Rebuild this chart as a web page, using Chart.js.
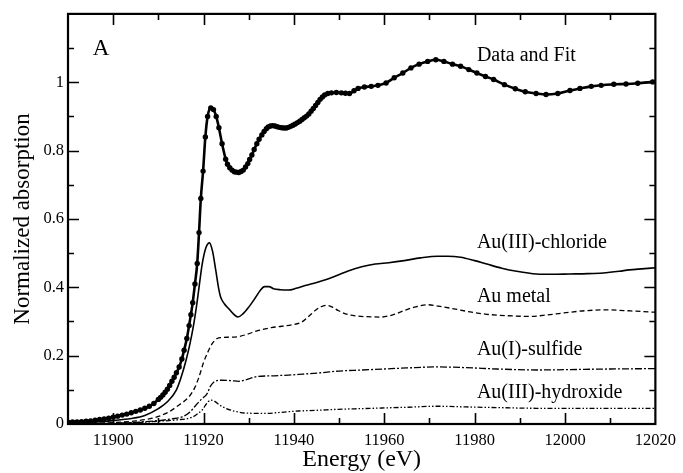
<!DOCTYPE html>
<html><head><meta charset="utf-8">
<script src="https://cdn.jsdelivr.net/npm/chart.js@4"></script>
<style>html,body{margin:0;padding:0;background:#fff}canvas{display:block}</style>
</head><body>
<canvas id="c" width="683" height="473"></canvas>
<script>
// ---- data (energy in eV, normalized absorption) ----
const seriesNames = ['Data and Fit', 'Au(III)-chloride', 'Au metal', 'Au(I)-sulfide', 'Au(III)-hydroxide'];

const fitE = [11890,11891,11892,11893,11894,11895,11896,11897,11898,11899,11900,11901,11902,11903,11904,11905,11906,11907,11908,11909,11910,11910.5,11911,11911.5,11912,11912.5,11913,11913.5,11914,11914.6,11915.2,11915.7,11916.3,11916.8,11917.2,11917.6,11918.1,11918.6,11919.0,11919.4,11919.9,11920.4,11920.9,11921.6,11922.2,11922.8,11923.4,11924.1,11924.9,11925.3,11925.8,11926.3,11926.8,11927.3,11927.8,11928.3,11928.8,11929.3,11929.8,11930.2,11930.7,11931.2,11931.8,11932.3,11932.9,11933.4,11933.9,11934.3,11934.8,11935.3,11935.8,11936.3,11936.8,11937.3,11937.8,11938.3,11938.8,11939.3,11939.8,11940.3,11940.8,11941.3,11941.8,11942.3,11942.8,11943.3,11943.8,11944.3,11944.8,11945.3,11945.8,11946.3,11946.8,11947.5,11948.3,11949.4,11950.5,11951.4,11952.3,11953.3,11954.2,11955.6,11957.1,11958.6,11960.4,11962.2,11964.1,11965.9,11967.7,11969.6,11971.4,11973.2,11975.1,11976.9,11978.7,11980.5,11982.4,11984.2,11986.6,11989.0,11991.2,11993.6,11995.8,11998.4,12001.1,12003.3,12005.8,12008.0,12010.8,12013.5,12016.1,12019.4];
const fitMu = [0.005,0.006,0.006,0.007,0.008,0.009,0.011,0.013,0.015,0.017,0.020,0.023,0.026,0.029,0.033,0.037,0.041,0.046,0.052,0.060,0.072,0.078,0.085,0.093,0.102,0.113,0.125,0.137,0.150,0.167,0.190,0.216,0.250,0.288,0.320,0.355,0.410,0.470,0.560,0.660,0.740,0.840,0.900,0.925,0.920,0.900,0.867,0.820,0.775,0.760,0.750,0.743,0.738,0.737,0.736,0.739,0.743,0.752,0.762,0.774,0.787,0.803,0.820,0.833,0.846,0.856,0.864,0.869,0.872,0.873,0.872,0.870,0.868,0.867,0.866,0.866,0.868,0.871,0.874,0.878,0.882,0.886,0.891,0.896,0.901,0.907,0.915,0.923,0.932,0.941,0.950,0.957,0.963,0.967,0.969,0.970,0.969,0.968,0.967,0.975,0.982,0.986,0.988,0.991,0.998,1.013,1.027,1.042,1.053,1.061,1.066,1.061,1.053,1.047,1.037,1.027,1.017,1.008,0.993,0.981,0.972,0.967,0.964,0.967,0.976,0.982,0.988,0.991,0.994,0.995,0.997,1.001];

const chlorideE = [11890,11895,11900,11904,11907,11910,11912,11914,11915,11916.1,11917,11917.8,11918.5,11919,11919.7,11920.5,11921.3,11922,11922.7,11923.3,11923.8,11924.6,11925.6,11926.6,11927.6,11928.7,11930,11931.5,11932.5,11933.5,11934.5,11935.5,11937,11938.8,11940.5,11942.5,11945,11947,11949.8,11952,11955,11958,11961,11964.4,11968,11971.8,11974,11976.9,11980,11982.7,11986,11989.3,11993.7,11997,12001,12005,12008.4,12012,12014.2,12017,12020];
const chlorideMu = [0.002,0.005,0.010,0.016,0.025,0.045,0.065,0.100,0.135,0.185,0.235,0.290,0.350,0.400,0.468,0.515,0.530,0.505,0.450,0.400,0.371,0.352,0.337,0.322,0.313,0.322,0.342,0.370,0.390,0.402,0.402,0.396,0.393,0.392,0.397,0.405,0.414,0.422,0.436,0.448,0.460,0.468,0.472,0.478,0.486,0.491,0.491,0.488,0.478,0.468,0.456,0.447,0.439,0.438,0.439,0.440,0.442,0.447,0.451,0.454,0.457];

const metalE = [11890,11900,11905,11908,11910,11912.4,11914.5,11916.8,11918,11919,11920,11920.8,11921.9,11923,11924.1,11925.5,11927.4,11929.5,11932.2,11935,11937.3,11939.5,11941.7,11943.3,11944.7,11946,11947.2,11948.5,11949.8,11952,11954,11956,11959.3,11962,11964.4,11967,11969.6,11972,11975.4,11979,11982.7,11987,11992.3,11996,12001,12005,12009.8,12013,12015.7,12020];
const metalMu = [0.001,0.004,0.009,0.015,0.022,0.036,0.055,0.080,0.105,0.138,0.180,0.206,0.235,0.250,0.253,0.254,0.255,0.262,0.274,0.282,0.286,0.290,0.298,0.315,0.332,0.343,0.347,0.342,0.332,0.320,0.316,0.314,0.313,0.320,0.332,0.343,0.349,0.345,0.337,0.328,0.321,0.317,0.315,0.319,0.327,0.332,0.334,0.332,0.330,0.327];

const sulfideE = [11890,11900,11905,11910,11913,11915.3,11917,11918.3,11919.5,11920.8,11921.5,11922.3,11923.8,11926,11927.8,11929.5,11931.5,11935,11938.8,11942,11946.1,11950,11955,11960,11965,11971.8,11978,11985,11993.7,12000,12010,12020];
const sulfideMu = [0.000,0.002,0.005,0.010,0.015,0.021,0.035,0.055,0.072,0.089,0.110,0.123,0.128,0.127,0.125,0.130,0.138,0.141,0.143,0.146,0.150,0.155,0.158,0.161,0.164,0.167,0.165,0.161,0.158,0.159,0.161,0.162];

const hydroxideE = [11890,11900,11905,11910,11914,11917.5,11919,11919.7,11920.7,11921.6,11922.5,11923.5,11924.9,11927,11929.3,11933.7,11937,11941,11945,11949.8,11955,11960,11965,11971.8,11978,11985,11993.7,12000,12010,12020];
const hydroxideMu = [0.000,0.002,0.004,0.008,0.012,0.020,0.033,0.041,0.060,0.070,0.066,0.056,0.046,0.037,0.032,0.031,0.034,0.038,0.040,0.043,0.045,0.047,0.049,0.052,0.050,0.048,0.046,0.046,0.046,0.046];

const xTickLabels = ['11900','11920','11940','11960','11980','12000','12020'];
const yTickLabels = ['0','0.2','0.4','0.6','0.8','1'];
const panelLetter = 'A';
const xTitle = 'Energy (eV)';
const yTitle = 'Normalized absorption';

// ---- chart ----
const FONT = "'Liberation Serif', 'Times New Roman', serif";
const pts = (xs, ys) => xs.map((x, i) => ({x, y: ys[i]}));

const frameTicks = {
  id: 'frameTicks',
  afterDatasetsDraw(chart) {
    const {ctx, chartArea: a, scales: {x, y}} = chart;
    ctx.save();
    ctx.strokeStyle = '#000';
    ctx.lineWidth = 1.6;
    ctx.beginPath();
    x.ticks.forEach(t => {
      if (t.value <= x.min || t.value >= x.max) return;
      const p = Math.round(x.getPixelForValue(t.value)) + 0.5;
      const len = t.label ? 11 : 6;
      ctx.moveTo(p, a.bottom); ctx.lineTo(p, a.bottom - len);
      ctx.moveTo(p, a.top); ctx.lineTo(p, a.top + len);
    });
    y.ticks.forEach(t => {
      if (t.value <= y.min + 1e-9 || t.value >= y.max - 1e-9) return;
      const p = Math.round(y.getPixelForValue(t.value)) + 0.5;
      const len = t.label ? 11 : 6;
      ctx.moveTo(a.left, p); ctx.lineTo(a.left + len, p);
      ctx.moveTo(a.right, p); ctx.lineTo(a.right - len, p);
    });
    ctx.stroke();
    ctx.lineWidth = 2.2;
    ctx.strokeRect(a.left, a.top, a.right - a.left, a.bottom - a.top);
    ctx.restore();
  }
};

const curveLabels = {
  id: 'curveLabels',
  afterDatasetsDraw(chart, args, opts) {
    const {ctx, scales: {x, y}} = chart;
    ctx.save();
    ctx.fillStyle = '#000';
    ctx.textAlign = 'left';
    ctx.textBaseline = 'alphabetic';
    opts.items.forEach(it => {
      ctx.font = it.size + 'px ' + FONT;
      ctx.fillText(it.text, x.getPixelForValue(it.x), y.getPixelForValue(it.y));
    });
    ctx.restore();
  }
};

new Chart(document.getElementById('c'), {
  type: 'line',
  data: {
    datasets: [
      {label: seriesNames[0], data: pts(fitE, fitMu), borderColor: '#000', backgroundColor: '#000',
       borderWidth: 2.6, pointRadius: 2.7, pointBorderWidth: 0, pointBackgroundColor: '#000', cubicInterpolationMode: 'monotone'},
      {label: seriesNames[1], data: pts(chlorideE, chlorideMu), borderColor: '#000', borderWidth: 1.6, pointRadius: 0, cubicInterpolationMode: 'monotone'},
      {label: seriesNames[2], data: pts(metalE, metalMu), borderColor: '#000', borderWidth: 1.3, borderDash: [5, 3], pointRadius: 0, cubicInterpolationMode: 'monotone'},
      {label: seriesNames[3], data: pts(sulfideE, sulfideMu), borderColor: '#000', borderWidth: 1.3, borderDash: [7, 2, 2, 2], pointRadius: 0, cubicInterpolationMode: 'monotone'},
      {label: seriesNames[4], data: pts(hydroxideE, hydroxideMu), borderColor: '#000', borderWidth: 1.3, borderDash: [5, 2, 1.5, 2, 1.5, 2], pointRadius: 0, cubicInterpolationMode: 'monotone'}
    ]
  },
  options: {
    responsive: false,
    animation: false,
    devicePixelRatio: 1,
    layout: {padding: {left: 0, right: 22, top: 12, bottom: 0}},
    plugins: {
      legend: {display: false},
      tooltip: {enabled: false},
      curveLabels: {items: [
        {text: panelLetter, x: 11895.5, y: 1.081, size: 23},
        {text: seriesNames[0], x: 11980.5, y: 1.061, size: 20},
        {text: seriesNames[1], x: 11980.5, y: 0.514, size: 20},
        {text: seriesNames[2], x: 11980.5, y: 0.357, size: 20},
        {text: seriesNames[3], x: 11980.5, y: 0.201, size: 20},
        {text: seriesNames[4], x: 11980.5, y: 0.075, size: 20}
      ]}
    },
    scales: {
      x: {
        type: 'linear', position: 'bottom', min: 11890, max: 12020,
        grid: {display: false, drawTicks: false},
        border: {display: false},
        ticks: {stepSize: 10, autoSkip: false, maxRotation: 0, padding: 7, color: '#000',
          font: {family: FONT, size: 16.5},
          callback: v => xTickLabels.includes(String(v)) ? String(v) : ''},
        title: {display: true, text: xTitle, color: '#000', padding: 0,
          font: {family: FONT, size: 24, lineHeight: 1.1}},
        afterFit: s => { s.height = 49; }
      },
      y: {
        type: 'linear', min: 0, max: 1.2,
        grid: {display: false, drawTicks: false},
        border: {display: false},
        ticks: {stepSize: 0.1, autoSkip: false, padding: 4, color: '#000',
          font: {family: FONT, size: 16.5},
          callback: v => { const s = String(Math.round(v * 10) / 10); return yTickLabels.includes(s) ? s : ''; }},
        title: {display: true, text: yTitle, color: '#000', padding: {top: 9, bottom: 0},
          font: {family: FONT, size: 23, lineHeight: 1.2}},
        afterFit: s => { s.width = 68; }
      }
    }
  },
  plugins: [frameTicks, curveLabels]
});
</script>
</body></html>
